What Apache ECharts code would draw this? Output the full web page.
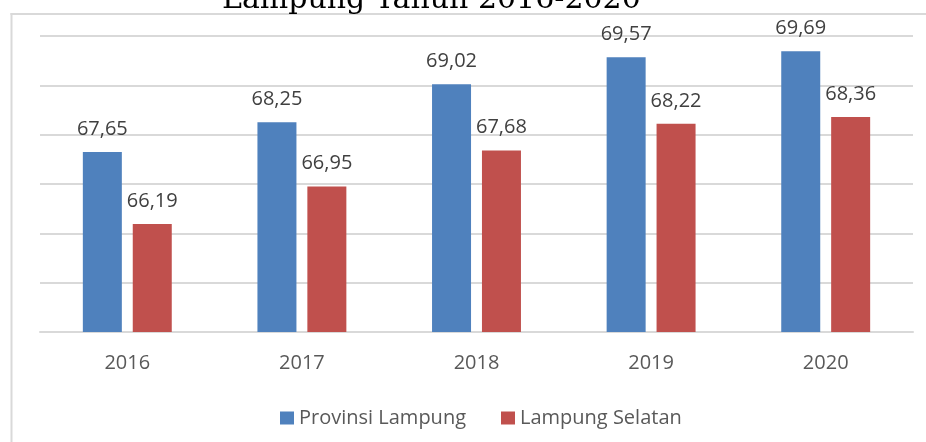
<!DOCTYPE html>
<html>
<head>
<meta charset="utf-8">
<script src="https://cdn.jsdelivr.net/npm/echarts@6/dist/echarts.min.js"></script>
<style>
html, body { margin: 0; padding: 0; background: #fff; overflow: hidden; }
#board { width: 926px; height: 442px; }
</style>
</head>
<body>
<div id="board"></div>
<script>
const years = ['2016', '2017', '2018', '2019', '2020']
const provinsiLampung = [67.65, 68.25, 69.02, 69.57, 69.69]
const lampungSelatan = [66.19, 66.95, 67.68, 68.22, 68.36]
const yTicks = [64, 65, 66, 67, 68, 69, 70]

const fmt = p => p.value.toFixed(2).replace('.', ',')
const labelFont = 'Open Sans'

let myChart = echarts.init(document.getElementById('board'))
myChart.setOption({
  animation: false,
  title: {
    text: 'Lampung Tahun 2016-2020',
    left: 217,
    top: -20,
    textStyle: { fontFamily: 'DejaVu Serif', fontWeight: 'normal', fontSize: 30, color: '#000' }
  },
  // frame of the chart area, only top and left edges are visible
  graphic: [
    {
      type: 'line',
      shape: { x1: 11.5, y1: 13, x2: 11.5, y2: 442 },
      style: { stroke: '#d9d9d9', lineWidth: 2 },
      silent: true
    },
    {
      type: 'line',
      shape: { x1: 10.5, y1: 14, x2: 926, y2: 14 },
      style: { stroke: '#d9d9d9', lineWidth: 2 },
      silent: true
    }
  ],
  legend: {
    data: ['Provinsi Lampung', 'Lampung Selatan'],
    left: 275,
    top: 403,
    itemWidth: 14,
    itemHeight: 13,
    itemGap: 35,
    icon: 'rect',
    textStyle: { fontFamily: labelFont, fontSize: 20, color: '#595959' }
  },
  grid: { left: 40, right: 13, top: 36, bottom: 110 },
  xAxis: {
    type: 'category',
    data: years,
    axisLine: { lineStyle: { color: '#d9d9d9', width: 2 } },
    axisTick: { show: false },
    axisLabel: { fontFamily: labelFont, fontSize: 20, color: '#595959', margin: 21 }
  },
  yAxis: {
    type: 'value',
    min: yTicks[0],
    max: yTicks[yTicks.length - 1],
    interval: 1,
    axisLine: { show: false },
    axisTick: { show: false },
    axisLabel: { show: false },
    splitLine: { lineStyle: { color: '#d9d9d9', width: 2 } }
  },
  series: [
    {
      name: 'Provinsi Lampung',
      type: 'bar',
      barWidth: 39,
      barGap: '28%',
      itemStyle: { color: '#4f81bd' },
      label: { show: true, position: 'top', distance: 13, formatter: fmt, fontFamily: labelFont, fontSize: 20, color: '#404040' },
      data: provinsiLampung
    },
    {
      name: 'Lampung Selatan',
      type: 'bar',
      barWidth: 39,
      itemStyle: { color: '#c0504d' },
      label: { show: true, position: 'top', distance: 13, formatter: fmt, fontFamily: labelFont, fontSize: 20, color: '#404040' },
      data: lampungSelatan
    }
  ]
})
</script>
</body>
</html>
